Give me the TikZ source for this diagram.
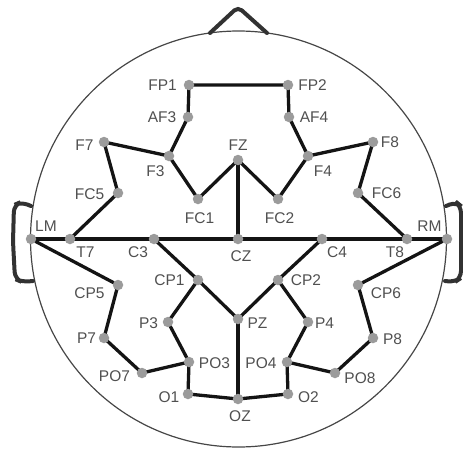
\documentclass[tikz,border=0pt]{standalone}
\usepackage{fontspec}
\setmainfont{Liberation Sans}
\usetikzlibrary{calc}
\pgfdeclarelayer{background}
\pgfsetlayers{background,main}
\definecolor{lblgray}{RGB}{80,80,80}
\definecolor{dotgray}{RGB}{155,155,155}
\definecolor{wirecol}{RGB}{20,20,20}
\definecolor{headcol}{RGB}{70,70,70}
\definecolor{featcol}{RGB}{50,50,50}

% electrode dot plus its label, offset (dx,dy) from the dot centre
\newcommand\placeelec[6]{%
  \node[electrode] (#1) at (#2,#3) {};
  \node[lbl] (#1-l) at ($(#1)+(#5,#6)$) {#4};}

\begin{document}
\begin{tikzpicture}[x=1pt,y=-1pt,
  electrode/.style={circle,fill=dotgray,minimum size=10.5pt,inner sep=0pt},
  lbl/.style={text=lblgray,font=\fontsize{15.5}{18}\selectfont,inner sep=0pt},
  wire/.style={draw=wirecol,line width=3.3pt,line join=round},
  headline/.style={draw=headcol,line width=1.2pt},
  feature/.style={draw=featcol,line width=4pt,rounded corners=7pt,line cap=round}]
\useasboundingbox (0,0) rectangle (463,452);

% head, nose and ears
\node[headline,circle,minimum size=416pt,inner sep=0pt] (head) at (238.5,239) {};
\draw[feature,rounded corners=5pt] (210,33) -- (238,7) -- (267,33);
\draw[feature] (31,206) -- (21,202) -- (14,205) -- (13,242) -- (15,279) -- (22,282) -- (33,281);
\draw[feature] (446,206) -- (456,202) -- (461,206) -- (461,242) -- (461,278) -- (455,282) -- (445,281);

% electrodes
\placeelec{FP1}{189}{85}{FP1}{-26.5}{0}
\placeelec{FP2}{288}{85}{FP2}{24.5}{0}
\placeelec{AF3}{188}{117}{AF3}{-26}{0}
\placeelec{AF4}{289}{117}{AF4}{25}{0}
\placeelec{F7}{104}{142}{F7}{-19.5}{3}
\placeelec{F8}{373}{142}{F8}{17}{0}
\placeelec{FZ}{238}{160}{FZ}{0}{-14.5}
\placeelec{F3}{169}{156}{F3}{-13.5}{15}
\placeelec{F4}{308}{156}{F4}{15}{15}
\placeelec{FC5}{118}{193}{FC5}{-28.5}{1.5}
\placeelec{FC6}{358}{193}{FC6}{28.5}{0}
\placeelec{FC1}{198}{199}{FC1}{1.5}{19}
\placeelec{FC2}{278}{199}{FC2}{1.5}{19}
\placeelec{LM}{31}{239}{LM}{15}{-13}
\placeelec{RM}{447}{239}{RM}{-17.5}{-13}
\placeelec{T7}{70}{239}{T7}{15.5}{13.5}
\placeelec{C3}{154}{239}{C3}{-16}{13.5}
\placeelec{CZ}{238}{239}{CZ}{3}{17}
\placeelec{C4}{322}{239}{C4}{15}{13.5}
\placeelec{T8}{407}{239}{T8}{-12}{13.5}
\placeelec{CP1}{198}{280}{CP1}{-28.5}{0}
\placeelec{CP2}{278}{280}{CP2}{28}{0}
\placeelec{CP5}{118}{285}{CP5}{-28.5}{8.5}
\placeelec{CP6}{358}{285}{CP6}{28}{8}
\placeelec{P3}{168}{322}{P3}{-19.5}{1}
\placeelec{PZ}{238}{319}{PZ}{19.5}{4}
\placeelec{P4}{308}{322}{P4}{16.5}{1}
\placeelec{P7}{104}{338}{P7}{-17.5}{0}
\placeelec{P8}{373}{338}{P8}{19.5}{1.5}
\placeelec{PO3}{189}{362}{PO3}{25.5}{1}
\placeelec{PO4}{287}{362}{PO4}{-26}{1}
\placeelec{PO7}{142}{373}{PO7}{-27.5}{3}
\placeelec{PO8}{335}{373}{PO8}{25}{5}
\placeelec{O1}{188}{394}{O1}{-19}{3.5}
\placeelec{O2}{288}{394}{O2}{20.5}{3.5}
\placeelec{OZ}{238}{399}{OZ}{2}{17.5}

% connections between electrodes, drawn beneath the dots
\begin{pgfonlayer}{background}
\draw[wire] (AF3.center) -- (FP1.center) -- (FP2.center) -- (AF4.center);
\draw[wire] (AF3.center) -- (F3.center) -- (FC1.center) -- (FZ.center) -- (FC2.center) -- (F4.center) -- (AF4.center);
\draw[wire] (F3.center) -- (F7.center) -- (FC5.center) -- (T7.center);
\draw[wire] (F4.center) -- (F8.center) -- (FC6.center) -- (T8.center);
\draw[wire] (FZ.center) -- (CZ.center);
\draw[wire] (LM.center) -- (T7.center) -- (C3.center) -- (CZ.center) -- (C4.center) -- (T8.center) -- (RM.center);
\draw[wire] (C3.center) -- (CP1.center) -- (PZ.center) -- (CP2.center) -- (C4.center);
\draw[wire] (CP1.center) -- (P3.center) -- (PO3.center) -- (O1.center) -- (OZ.center) -- (O2.center) -- (PO4.center) -- (P4.center) -- (CP2.center);
\draw[wire] (PZ.center) -- (OZ.center);
\draw[wire] (LM.center) -- (CP5.center) -- (P7.center) -- (PO7.center) -- (PO3.center);
\draw[wire] (RM.center) -- (CP6.center) -- (P8.center) -- (PO8.center) -- (PO4.center);
\end{pgfonlayer}
\end{tikzpicture}
\end{document}
